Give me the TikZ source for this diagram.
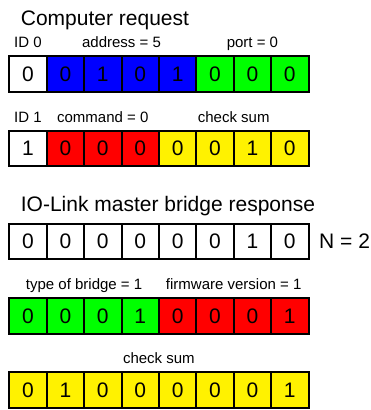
\documentclass[tikz,border=0pt]{standalone}
\usepackage{fontspec}
\setmainfont{Liberation Sans}
\usetikzlibrary{calc}
\tikzstyle{bitbox}=[draw=black,line width=2pt,minimum width=37.4pt,minimum height=35.8pt,inner sep=0pt,font=\fontsize{21}{25}\selectfont]
\tikzstyle{field}=[inner sep=0pt,anchor=base,font=\fontsize{15}{18}\selectfont]
\tikzstyle{heading}=[inner sep=0pt,anchor=base west,font=\fontsize{21}{25}\selectfont]

\begin{document}
\begin{tikzpicture}[x=1pt, y=-1pt]
	\useasboundingbox (0,0) rectangle (371,410);
	% computer request
	\node[heading] (req) at (20.7,25) {Computer request};
	\foreach \b/\c [count=\i] in {0/white,0/blue,1/blue,0/blue,1/blue,0/green,0/green,0/green}
		\node[bitbox,fill=\c] (ra\i) at (28+37.4*\i-37.4,73.8) {\b};
	\foreach \b/\c [count=\i] in {1/white,0/red,0/red,0/red,0/yellow,0/yellow,1/yellow,0/yellow}
		\node[bitbox,fill=\c] (rb\i) at (28+37.4*\i-37.4,148.4) {\b};
	\node[field] (id0) at ($(ra1.north)+(0,-7)$) {ID 0};
	\node[field] (addr) at ($(ra2.north)!0.5!(ra5.north)+(0,-7)$) {address = 5};
	\node[field] (port) at ($(ra6.north)!0.5!(ra8.north)+(0,-7)$) {port = 0};
	\node[field] (id1) at ($(rb1.north)+(0,-7)$) {ID 1};
	\node[field] (cmd) at ($(rb2.north)!0.5!(rb4.north)+(0,-7)$) {command = 0};
	\node[field] (csa) at ($(rb5.north)!0.5!(rb8.north)+(0,-7)$) {check sum};
	% bridge response
	\node[heading] (resp) at (20.7,211.5) {IO-Link master bridge response};
	\foreach \b [count=\i] in {0,0,0,0,0,0,1,0}
		\node[bitbox,fill=white] (sa\i) at (28+37.4*\i-37.4,241.4) {\b};
	\node[heading,anchor=west] (len) at ($(sa8.east)+(9.5,0)$) {N = 2};
	\foreach \b/\c [count=\i] in {0/green,0/green,0/green,1/green,0/red,0/red,0/red,1/red}
		\node[bitbox,fill=\c] (sb\i) at (28+37.4*\i-37.4,315.9) {\b};
	\node[field] (type) at ($(sb1.north)!0.5!(sb4.north)+(0,-7.5)$) {type of bridge = 1};
	\node[field] (fw) at ($(sb5.north)!0.5!(sb8.north)+(0,-7.5)$) {firmware version = 1};
	\foreach \b [count=\i] in {0,1,0,0,0,0,0,1}
		\node[bitbox,fill=yellow] (sc\i) at (28+37.4*\i-37.4,390.3) {\b};
	\node[field] (csb) at ($(sc1.north)!0.5!(sc8.north)+(0,-7.5)$) {check sum};
\end{tikzpicture}
\end{document}
